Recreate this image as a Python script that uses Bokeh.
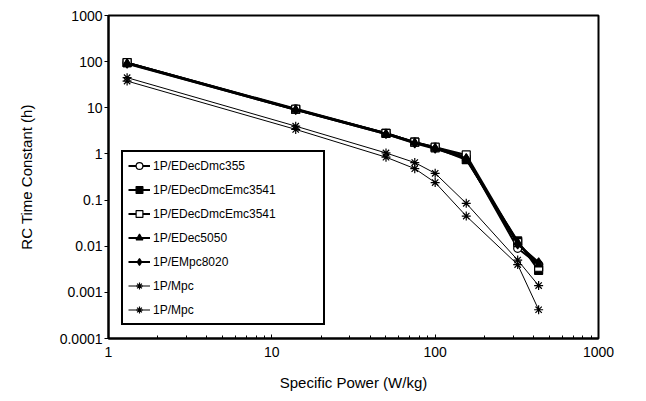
from bokeh.plotting import figure
from bokeh.models import FixedTicker, CustomJSTickFormatter, Legend, LegendItem
from bokeh.embed import file_html
from bokeh.resources import INLINE

power = [1.3, 14, 50, 75, 100, 155, 320, 430]

series_names = [
    "1P/EDecDmc355",
    "1P/EDecDmcEmc3541",
    "1P/EDecDmcEmc3541",
    "1P/EDec5050",
    "1P/EMpc8020",
    "1P/Mpc",
    "1P/Mpc",
]
edecdmc355 = [95, 9.5, 2.8, 1.8, 1.4, 0.85, 0.009, 0.004]
edecdmcemc3541_a = [95, 9.2, 2.8, 1.8, 1.35, 0.75, 0.013, 0.003]
edecdmcemc3541_b = [95, 9.3, 2.8, 1.8, 1.4, 0.95, 0.012, 0.0035]
edec5050 = [92, 9.0, 2.7, 1.75, 1.35, 0.8, 0.012, 0.004]
empc8020 = [90, 9.0, 2.7, 1.7, 1.3, 0.8, 0.011, 0.0045]
mpc_a = [45, 4.0, 1.05, 0.65, 0.38, 0.085, 0.005, 0.0014]
mpc_b = [38, 3.4, 0.85, 0.48, 0.24, 0.045, 0.004, 0.00042]

y_ticks = [0.0001, 0.001, 0.01, 0.1, 1, 10, 100, 1000]
x_ticks = [1, 10, 100, 1000]

FONT = "Liberation Sans"

p = figure(width=630, height=393, x_axis_type="log", y_axis_type="log",
           x_range=(1, 1000), y_range=(0.0001, 1000),
           output_backend="svg", toolbar_location=None,
           min_border_left=108, min_border_right=32,
           min_border_top=15, min_border_bottom=53)
p.xgrid.visible = False
p.ygrid.visible = False
p.outline_line_color = "black"
p.outline_line_alpha = 1
p.outline_line_width = 2
p.background_fill_color = "white"
p.border_fill_color = "white"

minor_x = [m * d for d in (1, 10, 100) for m in range(2, 10)]
p.xaxis.ticker = FixedTicker(ticks=x_ticks, minor_ticks=minor_x)
p.yaxis.ticker = FixedTicker(ticks=y_ticks, minor_ticks=[])
p.xaxis.formatter = CustomJSTickFormatter(code="return tick.toString();")
p.yaxis.formatter = CustomJSTickFormatter(code="return tick.toString();")

for ax in (p.xaxis[0], p.yaxis[0]):
    ax.axis_line_color = "black"
    ax.axis_line_alpha = 1
    ax.axis_line_width = 2
    ax.major_label_text_font = FONT
    ax.major_label_text_font_size = "14px"
    ax.major_label_text_color = "black"
    ax.axis_label_text_font = FONT
    ax.axis_label_text_font_size = "15px"
    ax.axis_label_text_font_style = "normal"
    ax.axis_label_text_color = "black"
    ax.major_tick_line_color = "black"
    ax.minor_tick_line_color = "black"

p.xaxis.major_tick_in = 4
p.xaxis.major_tick_out = 0
p.xaxis.minor_tick_in = 3
p.xaxis.minor_tick_out = 0
p.xaxis.major_label_standoff = 8
p.xaxis.axis_label = "Specific Power (W/kg)"
p.xaxis.axis_label_standoff = 14

p.yaxis.major_tick_in = 0
p.yaxis.major_tick_out = 4
p.yaxis.minor_tick_out = 0
p.yaxis.minor_tick_in = 0
p.yaxis.major_label_standoff = 2
p.yaxis.axis_label = "RC Time Constant (h)"
p.yaxis.axis_label_standoff = 22

data = [edecdmc355, edecdmcemc3541_a, edecdmcemc3541_b, edec5050, empc8020, mpc_a, mpc_b]
markers = ["circle", "square", "square", "triangle", "diamond", "asterisk", "asterisk"]
fills = ["white", "black", "white", "black", "black", None, None]
lw = [2, 2, 2, 2, 2, 1.0, 1.0]
sizes = [8, 8, 8, 8, 9, 9, 9]

items = []
for name, ys, mk, fc, w, s in zip(series_names, data, markers, fills, lw, sizes):
    ln = p.line(power, ys, line_color="black", line_width=w)
    kw = dict(marker=mk, size=s, line_color="black", line_width=1.2)
    if fc is None:
        kw["fill_alpha"] = 0
    else:
        kw["fill_color"] = fc
    sc = p.scatter(power, ys, **kw)
    items.append(LegendItem(label=name, renderers=[ln, sc]))

legend = Legend(items=items, location=(13, 13))
legend.label_text_font = FONT
legend.label_text_font_size = "12px"
legend.label_text_color = "black"
legend.border_line_color = "black"
legend.border_line_alpha = 1
legend.border_line_width = 2
legend.background_fill_color = "white"
legend.background_fill_alpha = 1
legend.glyph_width = 22
legend.glyph_height = 17
legend.label_height = 17
legend.spacing = 7
legend.padding = 5
legend.margin = 0
legend.label_standoff = 3
legend.label_width = 165
p.add_layout(legend, "center")

open("out.html", "w").write(file_html(p, INLINE))
